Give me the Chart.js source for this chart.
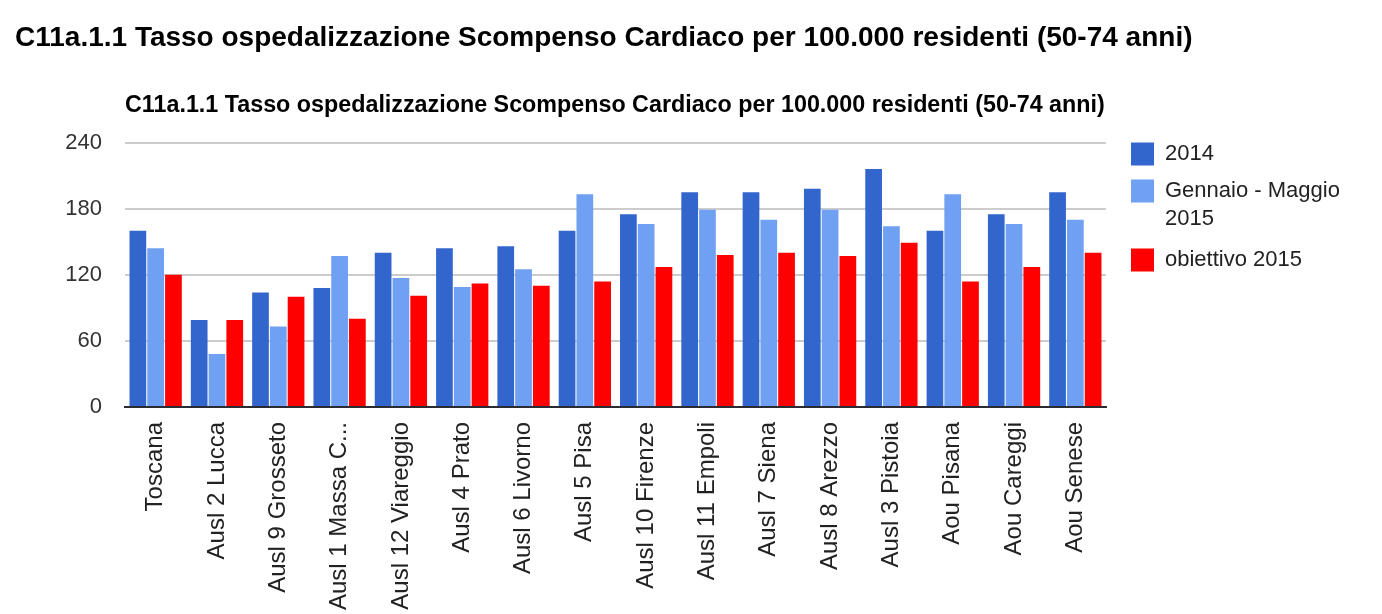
<!DOCTYPE html>
<html>
<head>
<meta charset="utf-8">
<script src="https://cdn.jsdelivr.net/npm/chart.js@4"></script>
<style>
  html, body { margin: 0; padding: 0; background: #ffffff; }
  #wrap { position: relative; width: 1382px; height: 614px; }
</style>
</head>
<body>
<div id="wrap"><canvas id="c" width="1382" height="614"></canvas></div>
<script>
// ---- data ----
const pageTitle = 'C11a.1.1 Tasso ospedalizzazione Scompenso Cardiaco per 100.000 residenti (50-74 anni)';
const chartTitle = 'C11a.1.1 Tasso ospedalizzazione Scompenso Cardiaco per 100.000 residenti (50-74 anni)';
const categories = ['Toscana', 'Ausl 2 Lucca', 'Ausl 9 Grosseto', 'Ausl 1 Massa C...', 'Ausl 12 Viareggio',
  'Ausl 4 Prato', 'Ausl 6 Livorno', 'Ausl 5 Pisa', 'Ausl 10 Firenze', 'Ausl 11 Empoli', 'Ausl 7 Siena',
  'Ausl 8 Arezzo', 'Ausl 3 Pistoia', 'Aou Pisana', 'Aou Careggi', 'Aou Senese'];
const seriesNames = ['2014', 'Gennaio - Maggio 2015', 'obiettivo 2015'];
const values2014 = [160, 79, 104, 108, 140, 144, 146, 160, 175, 195, 195, 198, 216, 160, 175, 195];
const valuesGenMag2015 = [144, 48, 73, 137, 117, 109, 125, 193, 166, 179, 170, 179, 164, 193, 166, 170];
const valuesObiettivo2015 = [120, 79, 100, 80, 101, 112, 110, 114, 127, 138, 140, 137, 149, 114, 127, 140];
const yTicks = [0, 60, 120, 180, 240];

const FONT = "'Liberation Sans', Arial, sans-serif";

const layoutTweaks = {
  id: 'layoutTweaks',
  beforeInit(chart) {
    const fit = chart.legend.fit;
    chart.legend.fit = function () { fit.call(this); this.width = 276; };
  },
  afterLayout(chart) {
    chart.legend.left += 11;
    chart.legend.top = chart.chartArea.top - 14;
  }
};

new Chart(document.getElementById('c'), {
  type: 'bar',
  data: {
    labels: categories,
    datasets: [
      { label: seriesNames[0], data: values2014, backgroundColor: '#3366cc', borderWidth: 0 },
      { label: seriesNames[1], data: valuesGenMag2015, backgroundColor: '#6fa0f2', borderWidth: 0 },
      { label: seriesNames[2], data: valuesObiettivo2015, backgroundColor: '#ff0000', borderWidth: 0 }
    ]
  },
  options: {
    responsive: false,
    devicePixelRatio: 1,
    animation: false,
    categoryPercentage: 0.87,
    barPercentage: 0.94,
    layout: { padding: { left: 15, right: 0, top: 0, bottom: 0 } },
    plugins: {
      title: {
        display: true,
        text: pageTitle,
        align: 'start',
        fullSize: true,
        color: '#000000',
        font: { family: FONT, size: 28, weight: 'bold', lineHeight: 1.2 },
        padding: { top: 21, bottom: 0 }
      },
      subtitle: {
        display: true,
        text: chartTitle,
        align: 'start',
        fullSize: false,
        color: '#000000',
        font: { family: FONT, size: 23.3, weight: 'bold', lineHeight: 1.2 },
        padding: { top: 37, bottom: 23 }
      },
      legend: {
        position: 'right',
        align: 'start',
        labels: {
          boxWidth: 23,
          boxHeight: 23,
          padding: 14,
          color: '#222222',
          font: { family: FONT, size: 22, lineHeight: 1.25 },
          generateLabels(chart) {
            const items = Chart.defaults.plugins.legend.labels.generateLabels(chart);
            items.forEach(it => {
              if (it.text === 'Gennaio - Maggio 2015') it.text = ['Gennaio - Maggio', '2015'];
              it.lineWidth = 0;
            });
            return items;
          }
        }
      },
      tooltip: { enabled: false }
    },
    scales: {
      x: {
        grid: { display: false, drawTicks: false },
        border: { display: true, color: '#2b2b33', width: 2 },
        ticks: {
          autoSkip: false,
          minRotation: 90,
          maxRotation: 90,
          padding: 15,
          color: '#222222',
          font: { family: FONT, size: 24 }
        },
        afterFit(scale) { scale.height = 207; }
      },
      y: {
        min: 0,
        max: 240,
        afterBuildTicks(scale) { scale.ticks = yTicks.map(v => ({ value: v })); },
        grid: {
          drawTicks: false,
          color: ctx => (ctx.tick && ctx.tick.value === 0) ? '#2b2b33' : '#cccccc',
          lineWidth: 2
        },
        border: { display: false },
        ticks: {
          padding: 23,
          color: '#333333',
          font: { family: FONT, size: 22 }
        },
        afterFit(scale) { scale.width = 110; }
      }
    }
  },
  plugins: [layoutTweaks]
});
</script>
</body>
</html>
